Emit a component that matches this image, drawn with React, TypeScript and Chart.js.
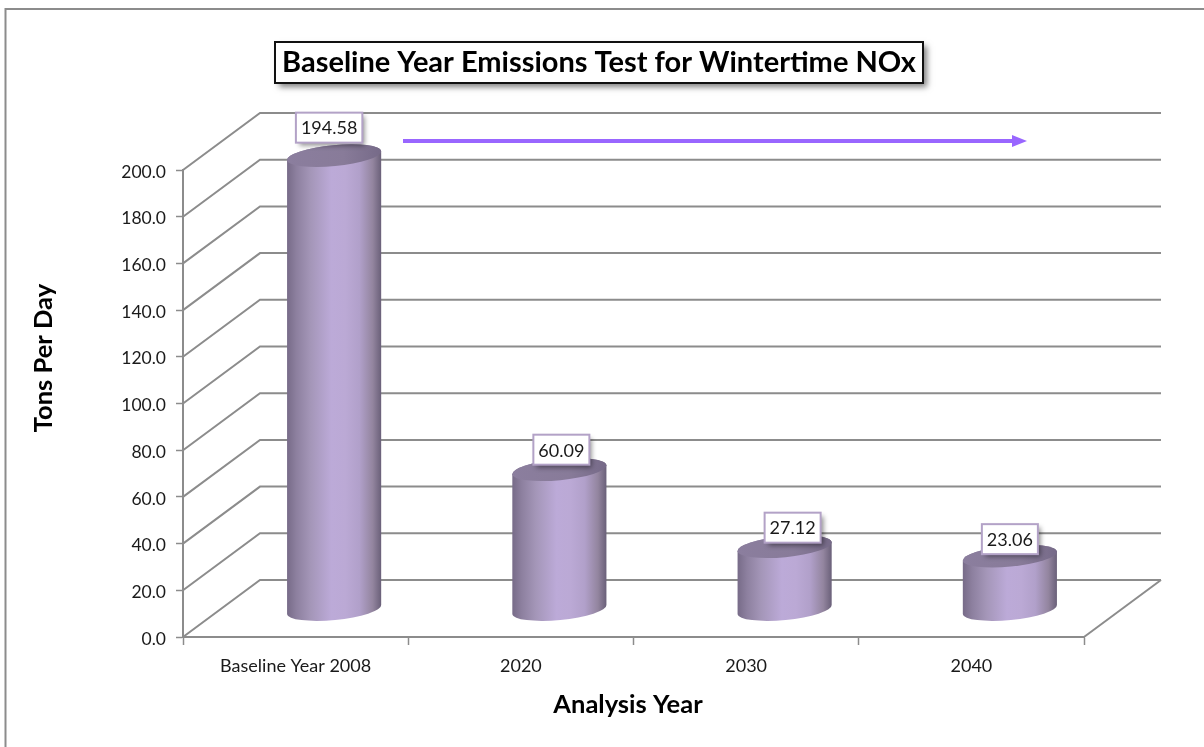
import React, { useEffect, useRef } from "react";
import { Chart, registerables } from "chart.js";

Chart.register(...registerables);

const categories = ["Baseline Year 2008", "2020", "2030", "2040"];
const emissions = [194.58, 60.09, 27.12, 23.06];
const chartTitle = "Baseline Year Emissions Test for Wintertime NOx";
const yAxisTitle = "Tons Per Day";
const xAxisTitle = "Analysis Year";

const FONT = "Lato, 'Noto Sans', sans-serif";
const GRID = "#8c8c8c";
const TEXT = "#1a1a1a";
const DEPTH_X = 77;
const DEPTH_Y = 57;
const BAR_SHIFT_X = 38.5;
const BAR_SHIFT_Y = 27;
const TILT = (-5.5 * Math.PI) / 180;
const labelNudges = [[-5, -28], [2, -20], [8, -19], [0, -17]];

function cylinderFill(ctx: CanvasRenderingContext2D, left: number, right: number) {
  const g = ctx.createLinearGradient(left, 0, right, 0);
  g.addColorStop(0, "#776b88");
  g.addColorStop(0.1, "#8d809f");
  g.addColorStop(0.25, "#a496b8");
  g.addColorStop(0.47, "#bcaad8");
  g.addColorStop(0.62, "#bba9d5");
  g.addColorStop(0.77, "#b1a0ca");
  g.addColorStop(0.91, "#93859f");
  g.addColorStop(1, "#6a6079");
  return g;
}

// Replaces the rectangle of a BarElement by a cylinder, from the element's own geometry.
function drawCylinder(this: any, ctx: CanvasRenderingContext2D) {
  const { x, y, base, width } = this;
  const rx = width / 2 / Math.cos(TILT);
  const ry = 10.5;
  ctx.save();
  ctx.fillStyle = cylinderFill(ctx, x - width / 2, x + width / 2);
  ctx.beginPath();
  ctx.ellipse(x, base, rx, ry, TILT, Math.PI, 0, true);
  ctx.ellipse(x, y, rx, ry, TILT, 0, Math.PI, true);
  ctx.closePath();
  ctx.fill();
  const g = ctx.createLinearGradient(x - width / 2, 0, x + width / 2, 0);
  g.addColorStop(0, "#8b7e9e");
  g.addColorStop(0.6, "#887b99");
  g.addColorStop(1, "#766a88");
  ctx.fillStyle = g;
  ctx.beginPath();
  ctx.ellipse(x, y, rx, ry, TILT, 0, Math.PI * 2);
  ctx.fill();
  ctx.restore();
}

const roomPlugin = {
  id: "room",
  afterLayout(chart: any) {
    chart.titleBlock.left = 0;
    chart.titleBlock.right = 1198;
  },
  beforeDraw(chart: any) {
    const { ctx, scales } = chart;
    const { x, y } = scales;
    ctx.save();
    ctx.strokeStyle = GRID;
    ctx.lineWidth = 2;
    ctx.beginPath();
    ctx.moveTo(5.5, 747);
    ctx.lineTo(5.5, 9);
    ctx.lineTo(1204, 9);
    ctx.stroke();

    y.ticks.forEach((t: any) => {
      const py = y.getPixelForValue(t.value);
      ctx.beginPath();
      ctx.moveTo(x.left, py);
      ctx.lineTo(x.left + DEPTH_X, py - DEPTH_Y);
      ctx.lineTo(x.right + DEPTH_X, py - DEPTH_Y);
      ctx.stroke();
    });
    ctx.beginPath();
    ctx.moveTo(x.right, y.bottom);
    ctx.lineTo(x.right + DEPTH_X, y.bottom - DEPTH_Y);
    ctx.stroke();

    // title frame
    ctx.shadowColor = "rgba(0,0,0,0.5)";
    ctx.shadowBlur = 6;
    ctx.shadowOffsetX = 4;
    ctx.shadowOffsetY = 4;
    ctx.fillStyle = "#ffffff";
    ctx.fillRect(275, 42, 648, 41);
    ctx.shadowColor = "transparent";
    ctx.strokeStyle = "#111111";
    ctx.lineWidth = 2;
    ctx.strokeRect(275, 42, 648, 41);

    // arrow
    ctx.strokeStyle = "#9966ff";
    ctx.fillStyle = "#9966ff";
    ctx.lineWidth = 4;
    ctx.beginPath();
    ctx.moveTo(403, 141);
    ctx.lineTo(1014, 141);
    ctx.stroke();
    ctx.beginPath();
    ctx.moveTo(1027, 141);
    ctx.lineTo(1012, 135);
    ctx.lineTo(1012, 147);
    ctx.closePath();
    ctx.fill();

    // Axis titles
    ctx.fillStyle = "#000000";
    ctx.font = `bold 25.5px ${FONT}`;
    ctx.textAlign = "center";
    ctx.textBaseline = "middle";
    ctx.fillText(xAxisTitle, 628, 705);
    ctx.translate(44, 358);
    ctx.rotate(-Math.PI / 2);
    ctx.fillText(yAxisTitle, 0, 0);
    ctx.restore();
  },
  beforeDatasetsDraw(chart: any) {
    const meta = chart.getDatasetMeta(0);
    meta.data.forEach((bar: any) => {
      bar.draw = drawCylinder;
    });
    chart.ctx.save();
    chart.ctx.translate(BAR_SHIFT_X, -BAR_SHIFT_Y);
  },
  afterDatasetsDraw(chart: any) {
    const { ctx } = chart;
    const meta = chart.getDatasetMeta(0);
    ctx.restore();

    // data labels
    ctx.save();
    ctx.font = `18px ${FONT}`;
    meta.data.forEach((bar: any, i: number) => {
      const text = emissions[i].toFixed(2);
      const cx = bar.x + BAR_SHIFT_X + labelNudges[i][0];
      const cy = bar.y - BAR_SHIFT_Y + labelNudges[i][1];
      const w = ctx.measureText(text).width + 10;
      const h = 30;
      ctx.shadowColor = "rgba(0,0,0,0.45)";
      ctx.shadowBlur = 5;
      ctx.shadowOffsetX = 3;
      ctx.shadowOffsetY = 3;
      ctx.fillStyle = "#ffffff";
      ctx.fillRect(cx - w / 2, cy - h / 2, w, h);
      ctx.shadowColor = "transparent";
      ctx.strokeStyle = "#b3a2c7";
      ctx.lineWidth = 2;
      ctx.strokeRect(cx - w / 2, cy - h / 2, w, h);
      ctx.fillStyle = TEXT;
      ctx.textAlign = "center";
      ctx.textBaseline = "middle";
      ctx.fillText(text, cx, cy + 1);
    });
    ctx.restore();
  },
};

export default function App() {
  const ref = useRef<HTMLCanvasElement>(null);
  useEffect(() => {
    const chart = new Chart(ref.current as HTMLCanvasElement, {
      type: "bar",
      data: {
        labels: categories,
        datasets: [
          {
            data: emissions,
            clip: false,
            borderWidth: 0,
            backgroundColor: "#bcaad8",
            categoryPercentage: 1,
            barPercentage: 94 / 225,
          } as any,
        ],
      },
      options: {
        responsive: false,
        animation: false,
        layout: { padding: { left: 0, right: 120, top: 0, bottom: 0 } },
        plugins: {
          legend: { display: false },
          tooltip: { enabled: false },
          title: {
            display: true,
            text: chartTitle,
            color: "#000000",
            font: { family: FONT, size: 29, weight: "bold", lineHeight: 1.2 },
            padding: { top: 45, bottom: 90.2 },
          },
        },
        scales: {
          x: {
            afterFit: (s: any) => {
              s.height = 110;
            },
            border: { display: true, color: GRID, width: 2 },
            grid: { drawOnChartArea: false, drawTicks: true, tickLength: 8, tickColor: GRID, tickWidth: 1.5 },
            ticks: { color: TEXT, font: { family: FONT, size: 18 }, padding: 10, maxRotation: 0 },
          },
          y: {
            min: 0,
            max: 200,
            afterFit: (s: any) => {
              s.width = 183;
            },
            border: { display: true, color: GRID, width: 2 },
            grid: { drawOnChartArea: false, drawTicks: true, tickLength: 7, tickColor: GRID, tickWidth: 1.5 },
            ticks: {
              stepSize: 20,
              color: TEXT,
              padding: 10,
              labelOffset: 2,
              font: { family: FONT, size: 17.5 },
              callback: (v: any) => Number(v).toFixed(1),
            },
          },
        },
      },
      plugins: [roomPlugin],
    } as any);
    return () => chart.destroy();
  }, []);
  return (
    <div style={{ position: "absolute", left: 0, top: 0, width: 1204, height: 747, background: "#fff" }}>
      <canvas ref={ref} width={1204} height={747} style={{ display: "block" }} />
    </div>
  );
}
